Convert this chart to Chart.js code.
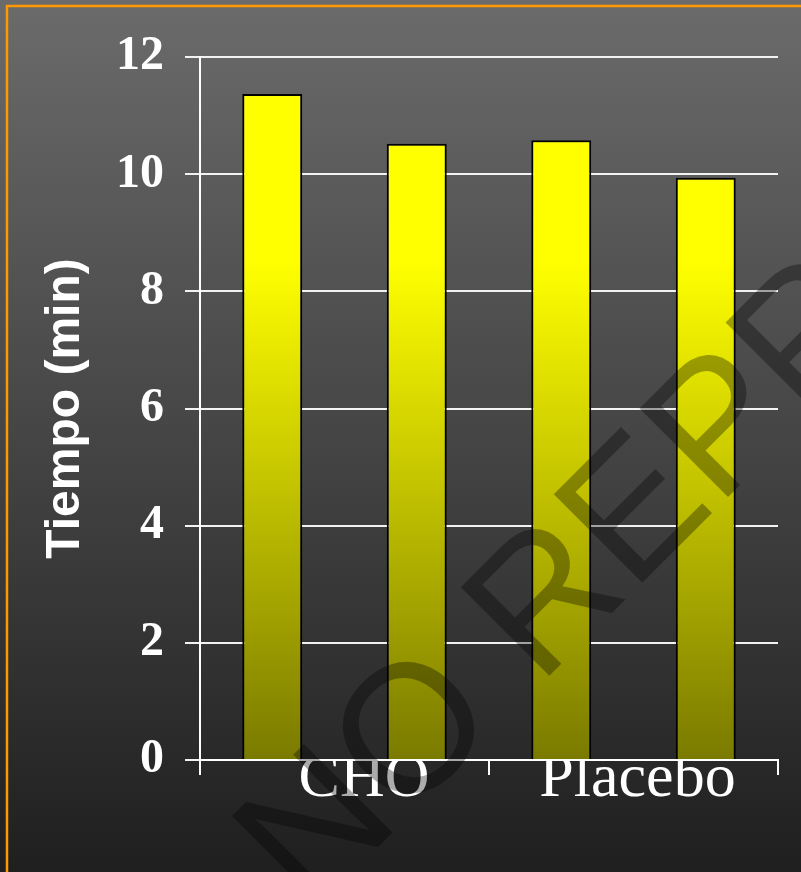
<!DOCTYPE html>
<html>
<head>
<meta charset="utf-8">
<script src="https://cdn.jsdelivr.net/npm/chart.js@4.4.0/dist/chart.umd.min.js"></script>
<style>
  html, body { margin: 0; padding: 0; background: #1f1f1f; }
  canvas { display: block; }
</style>
</head>
<body>
<canvas id="chart" width="801" height="872"></canvas>
<script>
// Categories and values (minutes)
const categories = ['  CHO', 'Placebo'];
const firstBars = [11.37, 10.58];
const secondBars = [10.52, 9.94];
const yTicks = [0, 2, 4, 6, 8, 10, 12];
const yTitle = 'Tiempo (min)';
const watermark = 'NO REPRODUCIR';

// Yellow-to-olive vertical fill shared by all bars
function barFill(context) {
  const chart = context.chart;
  const area = chart.chartArea;
  if (!area) return '#ffff00';
  const g = chart.ctx.createLinearGradient(0, area.top, 0, area.bottom);
  g.addColorStop(0, '#ffff00');
  g.addColorStop(0.29, '#ffff00');
  g.addColorStop(1, '#7a7a00');
  return g;
}

// Dark gray backdrop with an orange frame
const backdrop = {
  id: 'backdrop',
  beforeDraw(chart) {
    const { ctx, width, height } = chart;
    ctx.save();
    const g = ctx.createLinearGradient(0, 0, 0, height);
    g.addColorStop(0, '#6b6b6b');
    g.addColorStop(1, '#1f1f1f');
    ctx.fillStyle = g;
    ctx.fillRect(0, 0, width, height);
    ctx.strokeStyle = '#ff9900';
    ctx.lineWidth = 2.5;
    ctx.strokeRect(7, 6, width + 50, height + 50);
    ctx.restore();
  }
};

// Diagonal translucent notice over the chart
const notice = {
  id: 'notice',
  afterDraw(chart) {
    const ctx = chart.ctx;
    ctx.save();
    ctx.translate(310, 915);
    ctx.rotate(-Math.PI / 4);
    ctx.font = '182px "Liberation Sans", Arial, sans-serif';
    ctx.fillStyle = 'rgba(0,0,0,0.33)';
    ctx.textBaseline = 'alphabetic';
    ctx.textAlign = 'left';
    ctx.fillText(watermark, 0, 0);
    ctx.restore();
  }
};

new Chart(document.getElementById('chart'), {
  type: 'bar',
  data: {
    labels: categories,
    datasets: [
      {
        label: 'A',
        data: firstBars,
        backgroundColor: barFill,
        borderColor: '#000000',
        borderWidth: 2,
        categoryPercentage: 1.0,
        barPercentage: 0.415
      },
      {
        label: 'B',
        data: secondBars,
        backgroundColor: barFill,
        borderColor: '#000000',
        borderWidth: 2,
        categoryPercentage: 1.0,
        barPercentage: 0.415
      }
    ]
  },
  options: {
    responsive: false,
    animation: false,
    layout: { padding: { left: 0, top: 57, right: 23, bottom: 0 } },
    plugins: {
      legend: { display: false },
      tooltip: { enabled: false }
    },
    scales: {
      x: {
        offset: true,
        grid: {
          display: true,
          offset: true,
          drawOnChartArea: false,
          drawTicks: true,
          tickLength: 15,
          color: '#ffffff',
          lineWidth: 2
        },
        border: { display: true, color: '#ffffff', width: 2 },
        ticks: {
          color: '#ffffff',
          font: { family: '"Liberation Serif", "Times New Roman", serif', size: 62, lineHeight: 1 },
          padding: -26,
          labelOffset: 4,
          maxRotation: 0,
          autoSkip: false
        },
        afterFit(scale) { scale.height = 872 - 760; }
      },
      y: {
        min: 0,
        max: 12,
        afterBuildTicks(scale) { scale.ticks = yTicks.map(v => ({ value: v })); },
        grid: {
          color: '#f2f2f2',
          lineWidth: 2,
          tickLength: 15,
          drawTicks: true
        },
        border: { display: true, color: '#ffffff', width: 2 },
        ticks: {
          color: '#ffffff',
          font: { family: '"Liberation Serif", "Times New Roman", serif', size: 48, weight: 'bold' },
          padding: 21
        },
        title: {
          display: true,
          text: yTitle,
          color: '#ffffff',
          font: { family: '"Liberation Sans", Arial, sans-serif', size: 48, weight: 'bold' },
          padding: { top: 37, bottom: 0 }
        },
        afterFit(scale) { scale.width = 200; }
      }
    }
  },
  plugins: [backdrop, notice]
});
</script>
</body>
</html>
